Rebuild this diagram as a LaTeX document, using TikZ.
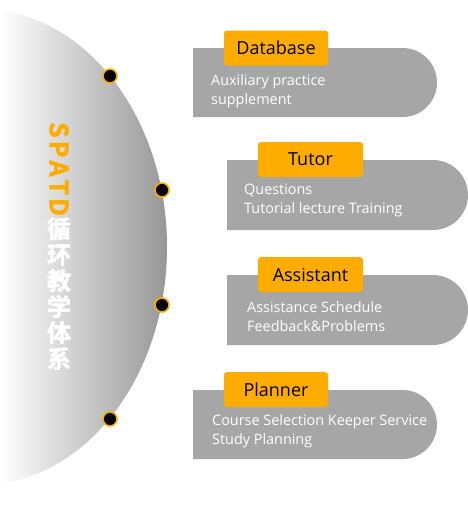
\documentclass[tikz,border=0pt]{standalone}
\usepackage{fontspec}
\setmainfont{Open Sans}
\newfontfamily\cjk[BoldFont={Noto Sans CJK SC Bold}, BoldFeatures={FakeBold=2.2}]{Noto Sans CJK SC}
\usetikzlibrary{shapes.misc}
\definecolor{tagorange}{RGB}{255,172,0}
\definecolor{panelgray}{RGB}{166,166,166}
\definecolor{halfgray}{RGB}{150,150,150}
\setlength{\lineskiplimit}{-30pt}

\begin{document}
\begin{tikzpicture}[x=1pt,y=-1pt,
  panel/.style={rounded rectangle, rounded rectangle left arc=none, fill=panelgray, inner sep=0pt},
  tag/.style={fill=tagorange, rounded corners=3pt, inner sep=0pt, minimum height=35pt,
    font=\fontsize{18}{20}\selectfont},
  body/.style={anchor=north west, inner sep=0pt, align=left, text=white,
    font=\fontsize{14.4}{19}\selectfont},
  dot/.style={circle, fill=black, draw=tagorange, line width=1.6pt, minimum size=14pt, inner sep=0pt}]
\useasboundingbox (0,0) rectangle (468,506);
% half disc with gradient
\begin{scope}
  \clip (-20,247) ellipse [x radius=187, y radius=238];
  \shade[left color=white, right color=halfgray] (0,0) rectangle (168,506);
\end{scope}
\node[rotate=-90, anchor=west, inner sep=0pt, text=tagorange,
  font=\cjk\bfseries\fontsize{25}{25}\selectfont] (titleen) at (59,122)
  {S\hspace{3pt}P\hspace{3pt}A\hspace{3pt}T\hspace{3pt}D};
\node[anchor=north, inner sep=0pt, align=center, text=white,
  font=\cjk\bfseries\fontsize{24}{26}\selectfont] (titlecn)
  at ([yshift=-1pt]titleen.east) {循\\环\\教\\学\\体\\系};
% panels
\node[panel, minimum width=244pt, minimum height=69pt] (pdata) at (315,82.5) {};
\node[panel, minimum width=241pt, minimum height=70pt] (ptutor) at (347.5,195) {};
\node[panel, minimum width=241pt, minimum height=70pt] (passist) at (347.5,310) {};
\node[panel, minimum width=244pt, minimum height=69pt] (pplan) at (315,424.5) {};
\node[tag, minimum width=104pt] (tdata) at (276,48) {Database};
\node[tag, minimum width=105pt] (ttutor) at (310.5,159.5) {Tutor};
\node[tag, minimum width=105pt] (tassist) at (310.5,274.5) {Assistant};
\node[tag, minimum width=104pt] (tplan) at (276,389.5) {Planner};
\node[body] (bdata) at (211,74) {Auxiliary practice\\supplement};
\node[body] (btutor) at (244,184) {Questions\\Tutorial lecture Training};
\node[body] (bassist) at (247,301) {Assistance Schedule\\Feedback\&Problems};
\node[body] (bplan) at (212,414) {Course Selection Keeper Service\\Study Planning};
% dots on the rim
\node[dot] (d1) at (110,76) {};
\node[dot] (d2) at (162,190) {};
\node[dot] (d3) at (162,305) {};
\node[dot] (d4) at (110,419) {};
\end{tikzpicture}
\end{document}
